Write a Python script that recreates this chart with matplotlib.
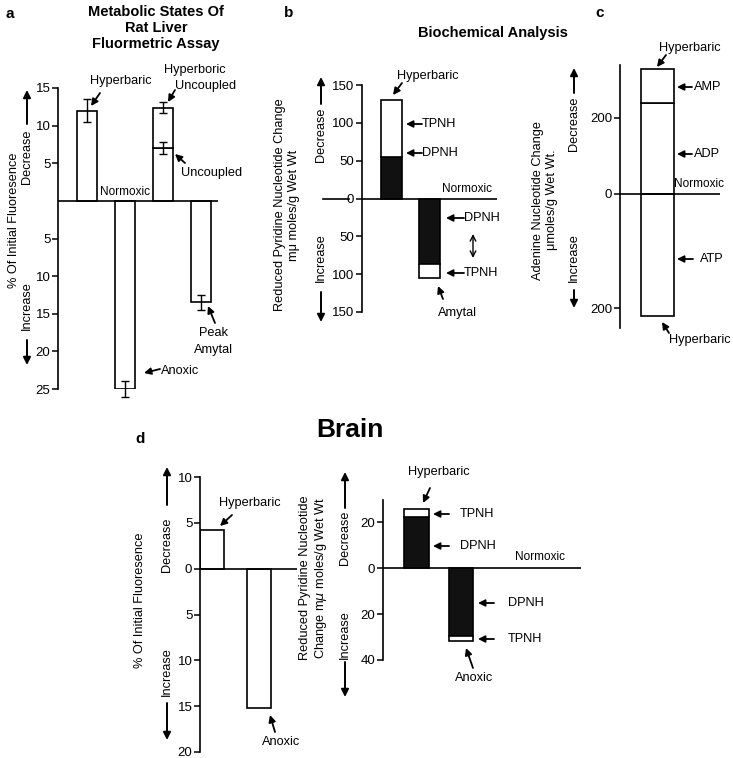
import matplotlib
matplotlib.use('Agg')
import matplotlib.pyplot as plt
import matplotlib.transforms as mtransforms
from matplotlib.patches import FancyArrowPatch
from matplotlib.ticker import FuncFormatter
import numpy as np

plt.rcParams['font.family'] = ['Liberation Sans', 'DejaVu Sans']

W, H = 733, 758

# a: rat liver, fluorometric assay (% of initial fluorescence, + = decrease)
liver_cond = ['Hyperbaric', 'Anoxic', 'Hyperbaric Uncoupled', 'Peak Amytal']
liver_val = [12.0, -25.0, 12.4, -13.5]
liver_err = [1.55, 1.0, 0.75, 1.0]
uncoupled_val = 7.0
uncoupled_err = 0.8
ticks_a = [15, 10, 5, -5, -10, -15, -20, -25]

# b: reduced pyridine nucleotides, liver (mu moles/g wet wt)
pyr_cond = ['Hyperbaric', 'Amytal']
pyr_dpnh = [55, -87]
pyr_tpnh = [75, -18]
ticks_b = [150, 100, 50, 0, -50, -100, -150]

# c: adenine nucleotides, hyperbaric (umoles/g wet wt)
aden_adp = 239
aden_amp = 90
aden_atp = -214
ticks_c = [200, 0, -200]

# d: brain
brain_cond = ['Hyperbaric', 'Anoxic']
brain_fluor = [4.2, -15.2]
brain_dpnh = [22.2, -29.5]
brain_tpnh = [3.4, -2.3]
ticks_d1 = [10, 5, 0, -5, -10, -15, -20]
ticks_d2 = [20, 0, -20, -40]

fig = plt.figure(figsize=(W / 100, H / 100), dpi=100)
# pixel coordinates from the top-left corner, for labels and arrows
T = mtransforms.Affine2D().scale(1 / W, -1 / H).translate(0, 1) + fig.transFigure


def make_ax(x0, y0, x1, y1, xlim, ylim, ticks, scale=None):
    ax = fig.add_axes([x0 / W, 1 - y1 / H, (x1 - x0) / W, (y1 - y0) / H])
    if scale is not None:
        ax.set_yscale('function', functions=scale)
    ax.set_xlim(xlim)
    ax.set_ylim(ylim)
    for s in ['top', 'right', 'bottom']:
        ax.spines[s].set_visible(False)
    ax.spines['left'].set_linewidth(1.2)
    ax.set_xticks([])
    ax.set_yticks(ticks)
    ax.yaxis.set_minor_locator(matplotlib.ticker.NullLocator())
    ax.yaxis.set_major_formatter(FuncFormatter(lambda v, p: f'{abs(v):g}'))
    ax.tick_params(axis='y', length=4, width=1.1, labelsize=9.5, pad=1.5)
    ax.patch.set_visible(False)
    ax.axhline(0, color='k', lw=1.2, zorder=3)
    return ax


def txt(x, y, s, size=9.2, **kw):
    kw.setdefault('ha', 'center')
    kw.setdefault('va', 'center')
    fig.text(x, y, s, transform=T, fontsize=size, **kw)


def arr(x0, y0, x1, y1, style='-|>', lw=1.3, ms=10):
    fig.add_artist(FancyArrowPatch((x0, y0), (x1, y1), transform=T, arrowstyle=style,
                                   mutation_scale=ms, lw=lw, color='k',
                                   shrinkA=0, shrinkB=0))


def side_label(x, yd, ya0, ya1, yi, yb0, yb1):
    txt(x, yd, 'Decrease', rotation=90)
    arr(x, ya0, x, ya1, lw=1.4, ms=11)
    txt(x, yi, 'Increase', rotation=90)
    arr(x, yb0, x, yb1, lw=1.4, ms=11)


bar_kw = dict(edgecolor='k', linewidth=1.2, zorder=2)

# ---------- panel a ----------
ax = make_ax(58, 88, 218, 389, (-0.763, 3.447), (-25, 15), ticks_a)
pos = np.arange(len(liver_cond))
w = 0.53
ax.bar(pos[:2], liver_val[:2], w, color='white', **bar_kw)
ax.bar(pos[3], liver_val[3], w, color='white', **bar_kw)
ax.bar(pos[2], uncoupled_val, w, color='white', **bar_kw)
ax.bar(pos[2], liver_val[2] - uncoupled_val, w, bottom=uncoupled_val, color='white', **bar_kw)
eb = ax.errorbar(list(pos) + [pos[2]], liver_val + [uncoupled_val], yerr=liver_err + [uncoupled_err],
                 fmt='none', ecolor='k', elinewidth=1, capsize=3, capthick=1, zorder=4)
for a in eb.lines[1] + eb.lines[2]:
    a.set_clip_on(False)

txt(5, 14, 'a', size=11, weight='bold', ha='left')
txt(156, 28, 'Metabolic States Of\nRat Liver\nFluormetric Assay', size=10.5, weight='bold',
    linespacing=1.15)
txt(121, 81, 'Hyperbaric')
arr(100, 93, 91, 106)
txt(195, 70, 'Hyperboric')
txt(206, 86, 'Uncoupled')
arr(175, 90, 168, 102)
txt(212, 173, 'Uncoupled')
arr(185, 163, 175, 154)
txt(125, 192, 'Normoxic', size=8.5)
txt(213, 333, 'Peak')
txt(213, 350, 'Amytal')
arr(215, 323, 208, 306)
txt(161, 371, 'Anoxic', ha='left')
arr(160, 369, 144, 373)
txt(14, 220, '% Of Initial Fluoresence', rotation=90)
side_label(27, 157, 124, 90, 306, 340, 365)

# ---------- panel b ----------
ax = make_ax(362, 85, 497, 312, (-0.787, 2.813), (-150, 150), ticks_b)
pos = np.arange(len(pyr_cond))
w = 0.56
ax.bar(pos, pyr_dpnh, w, color='#111111', **bar_kw)
ax.bar(pos, pyr_tpnh, w, bottom=pyr_dpnh, color='white', **bar_kw)
ax.plot([(323 - 362) / 135, (349 - 362) / 135], [0, 0], color='k', lw=1.2,
        transform=ax.get_yaxis_transform(), clip_on=False)

txt(289, 13, 'b', size=11, weight='bold')
txt(493, 33, 'Biochemical Analysis', size=10.5, weight='bold')
txt(428, 76, 'Hyperbaric')
arr(402, 83, 393, 95)
txt(422, 124, 'TPNH', ha='left')
arr(422, 124, 406, 124)
txt(422, 153, 'DPNH', ha='left')
arr(422, 153, 406, 153)
txt(467, 189, 'Normoxic', size=8.5)
txt(464, 218, 'DPNH', ha='left')
arr(464, 218, 446, 218)
arr(473, 234, 473, 258, style='<->', lw=1.0, ms=10)
txt(464, 273, 'TPNH', ha='left')
arr(464, 273, 446, 273)
txt(457, 313, 'Amytal')
arr(443, 299, 438, 286)
txt(287, 205, 'Reduced Pyridine Nucleotide Change\nm\u03bc moles/g Wet Wt', rotation=90,
    multialignment='center', linespacing=1.2)
side_label(321, 135, 104, 77, 258, 292, 322)

# ---------- panel c ----------
fwd = lambda v: np.where(np.asarray(v) >= 0, v, 1.5 * np.asarray(v))
inv = lambda u: np.where(np.asarray(u) >= 0, u, np.asarray(u) / 1.5)
ax = make_ax(620, 65, 720, 328, (-1.0, 1.667), (-235, 339), ticks_c, scale=(fwd, inv))
w = 0.88
ax.bar(0, aden_adp, w, color='white', **bar_kw)
ax.bar(0, aden_amp, w, bottom=aden_adp, color='white', **bar_kw)
ax.bar(0, aden_atp, w, color='white', **bar_kw)

txt(600, 13, 'c', size=11, weight='bold')
txt(690, 48, 'Hyperbaric')
arr(666, 55, 657, 67)
txt(694, 87, 'AMP', ha='left')
arr(692, 87, 677, 87)
txt(694, 154, 'ADP', ha='left')
arr(692, 154, 677, 154)
txt(674, 184, 'Normoxic', ha='left', size=8.5)
txt(700, 259, 'ATP', ha='left')
arr(693, 259, 677, 259)
txt(700, 340, 'Hyperbaric')
arr(669, 333, 662, 322)
txt(545, 200, 'Adenine Nucleotide Change\n\u03bcmoles/g Wet Wt.', rotation=90,
    multialignment='center', linespacing=1.2)
side_label(574, 124, 93, 68, 258, 290, 308)

# ---------- panel d ----------
txt(350, 437, 'Brain', size=19, weight='bold', va='baseline')

ax = make_ax(200, 477, 297, 752, (-0.255, 1.809), (-20, 10), ticks_d1)
pos = np.arange(len(brain_cond))
ax.bar(pos, brain_fluor, 0.51, color='white', **bar_kw)

txt(140, 439, 'd', size=11, weight='bold')
txt(250, 503, 'Hyperbaric')
arr(232, 515, 220, 526)
txt(281, 742, 'Anoxic')
arr(275, 732, 270, 715)
txt(140, 600, '% Of Initial Fluoresence', rotation=90)
side_label(167, 545, 505, 467, 672, 703, 740)

ax = make_ax(383, 500, 581, 660, (-0.753, 3.697), (-40, 29.6), ticks_d2)
w = 0.55
ax.bar(pos, brain_dpnh, w, color='#111111', **bar_kw)
ax.bar(pos, brain_tpnh, w, bottom=brain_dpnh, color='white', **bar_kw)

txt(439, 472, 'Hyperbaric')
arr(430, 488, 423, 503)
txt(460, 514, 'TPNH', ha='left')
arr(449, 514, 433, 514)
txt(460, 546, 'DPNH', ha='left')
arr(449, 546, 433, 546)
txt(540, 557, 'Normoxic', size=8.5)
txt(508, 603, 'DPNH', ha='left')
arr(494, 603, 478, 603)
txt(508, 639, 'TPNH', ha='left')
arr(494, 639, 478, 639)
txt(474, 678, 'Anoxic')
arr(473, 668, 466, 648)
txt(314, 578, 'Reduced Pyridine Nucleotide\nChange m$\\mu$ moles/g Wet Wt', rotation=90,
    multialignment='center', linespacing=1.2)
side_label(345, 538, 508, 472, 635, 662, 697)

fig.savefig('out.png', dpi=100, facecolor='white')
